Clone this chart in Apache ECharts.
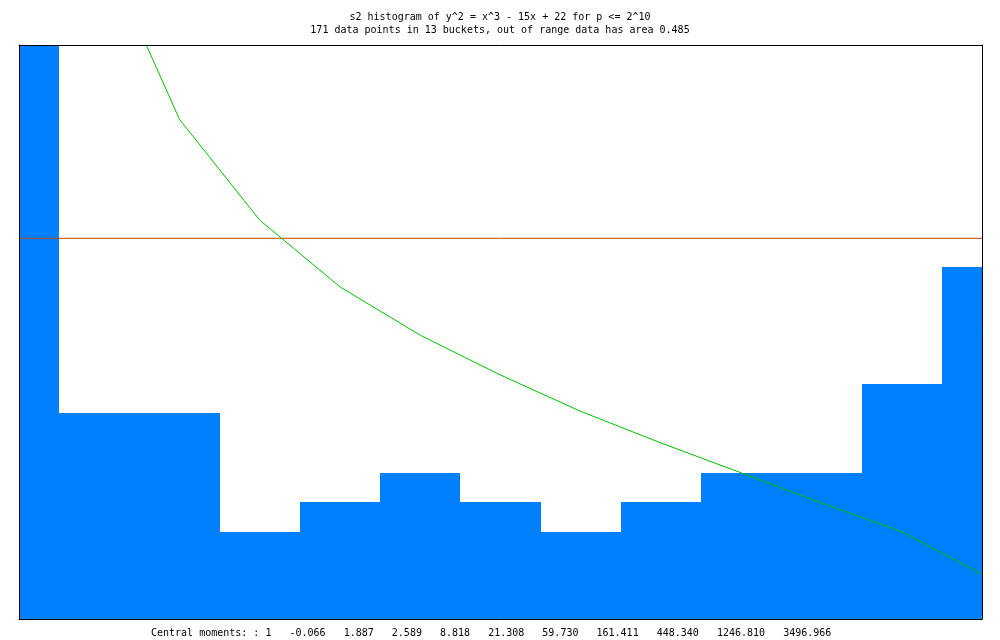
<!DOCTYPE html>
<html>
<head>
<meta charset="utf-8">
<script src="https://cdn.jsdelivr.net/npm/echarts@6/dist/echarts.min.js"></script>
<style>html,body{margin:0;padding:0;background:#fff}#c{width:1000px;height:640px}</style>
</head>
<body>
<div id="c"></div>
<script>
// ---- data ----
const titleLine1 = "s2 histogram of y^2 = x^3 - 15x + 22 for p <= 2^10";
const titleLine2 = "171 data points in 13 buckets, out of range data has area 0.485";
const momentsLabel = "Central moments: : 1";
const moments = ["-0.066", "1.887", "2.589", "8.818", "21.308", "59.730", "161.411", "448.340", "1246.810", "3496.966"];
// bucket centres (in bucket-width units) and bucket heights
const bucketCenters = [0, 1, 2, 3, 4, 5, 6, 7, 8, 9, 10, 11, 12];
const bucketHeights = [60, 7.03, 7.03, 2.97, 3.99, 4.98, 3.99, 2.97, 3.99, 4.98, 4.98, 8.02, 12.01];
// expected (green) curve at bucket centres
const expectedCurve = [40, 23.2, 17.06, 13.62, 11.34, 9.69, 8.33, 7.09, 6.01, 4.99, 3.96, 2.98, 1.53];
// mean level (red line)
const meanLevel = 13.0;
const yMax = 19.6;

const chart = echarts.init(document.getElementById('c'), null, {renderer: 'canvas'});
const font = {fontFamily: 'DejaVu Sans Mono', fontSize: 10, fontWeight: 'normal', color: '#000', lineHeight: 12};
const bottomText = [momentsLabel].concat(moments).join('   ');

const axisCommon = {
  type: 'value', min: 0, max: 12,
  axisLine: {show: true, onZero: false, lineStyle: {color: '#000', width: 1}},
  axisTick: {show: false}, axisLabel: {show: false}, splitLine: {show: false}, z: 10
};
const yCommon = {
  type: 'value', min: 0, max: yMax,
  axisLine: {show: true, onZero: false, lineStyle: {color: '#000', width: 1}},
  axisTick: {show: false}, axisLabel: {show: false}, splitLine: {show: false}, z: 10
};

chart.setOption({
  animation: false,
  backgroundColor: '#fff',
  title: [
    {text: titleLine1, left: 'center', top: 11, padding: 0, textStyle: font},
    {text: titleLine2, left: 'center', top: 24, padding: 0, textStyle: font},
    {text: bottomText, left: 151, top: 627, padding: 0, textStyle: font}
  ],
  grid: {left: 19, right: 18, top: 45, bottom: 21, containLabel: false},
  xAxis: [
    Object.assign({position: 'bottom'}, axisCommon),
    Object.assign({position: 'top'}, axisCommon)
  ],
  yAxis: [
    Object.assign({position: 'left'}, yCommon),
    Object.assign({position: 'right'}, yCommon)
  ],
  series: [
    {
      type: 'custom',
      xAxisIndex: 0, yAxisIndex: 0,
      clip: true,
      data: bucketCenters.map((c, i) => [c, bucketHeights[i]]),
      renderItem: function (params, api) {
        const c = api.value(0), h = api.value(1);
        const p0 = api.coord([c - 0.5, h]);
        const p1 = api.coord([c + 0.5, 0]);
        const cs = params.coordSys;
        const x0 = Math.round(p0[0]), x1 = Math.round(p1[0]);
        const y0 = Math.round(p0[1]), y1 = Math.round(p1[1]);
        const r = echarts.graphic.clipRectByRect(
          {x: x0, y: y0, width: x1 - x0, height: y1 - y0},
          {x: cs.x, y: cs.y, width: cs.width, height: cs.height}
        );
        return r && {type: 'rect', shape: r, style: {fill: '#0080FF'}};
      },
      z: 2
    },
    {
      type: 'line',
      xAxisIndex: 0, yAxisIndex: 0,
      data: [[bucketCenters[0], meanLevel], [bucketCenters[bucketCenters.length - 1], meanLevel]],
      symbol: 'none',
      lineStyle: {color: '#C84000', width: 1},
      clip: true, z: 3
    },
    {
      type: 'line',
      xAxisIndex: 0, yAxisIndex: 0,
      data: bucketCenters.map((c, i) => [c, expectedCurve[i]]),
      symbol: 'none',
      lineStyle: {color: '#00C000', width: 1},
      clip: true, z: 4
    }
  ]
});
</script>
</body>
</html>
